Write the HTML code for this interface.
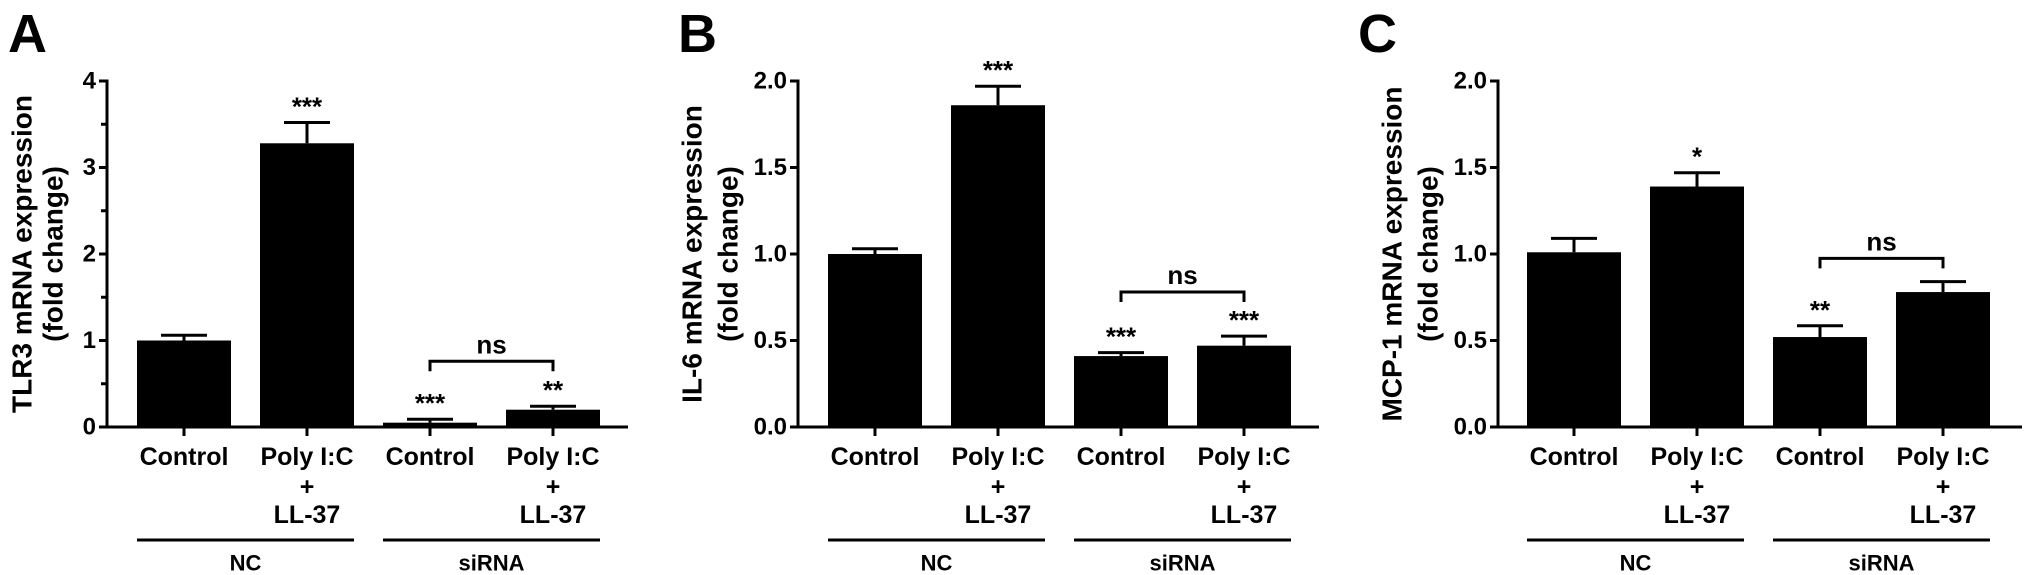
<!DOCTYPE html>
<html><head><meta charset="utf-8">
<style>
html,body{margin:0;padding:0;background:#fff;}
svg{display:block;font-family:"Liberation Sans",Arial,sans-serif;font-weight:bold;}
</style></head>
<body>
<svg id="fig" width="2026" height="575" viewBox="0 0 2026 575"></svg>
<script>
const categories = ["Control", "Poly I:C + LL-37", "Control", "Poly I:C + LL-37"];
const groups = ["NC", "siRNA"];
const tlr3Values = [1.0, 3.28, 0.05, 0.20];
const tlr3Errors = [0.06, 0.24, 0.04, 0.04];
const tlr3Stars = ["", "***", "***", "**"];
const il6Values = [1.0, 1.86, 0.41, 0.47];
const il6Errors = [0.03, 0.11, 0.02, 0.055];
const il6Stars = ["", "***", "***", "***"];
const mcp1Values = [1.01, 1.39, 0.52, 0.78];
const mcp1Errors = [0.08, 0.08, 0.065, 0.06];
const mcp1Stars = ["", "*", "**", ""];
const tlr3Ticks = [0, 1, 2, 3, 4];
const il6Ticks = [0, 0.5, 1.0, 1.5, 2.0];
const mcp1Ticks = [0, 0.5, 1.0, 1.5, 2.0];
const tlr3NsLevel = 0.76;
const il6NsLevel = 0.78;
const mcp1NsLevel = 0.975;

const NS = "http://www.w3.org/2000/svg";
const svg = document.getElementById("fig");
function mk(tag, attrs, parent) {
  const e = document.createElementNS(NS, tag);
  for (const k in attrs) e.setAttribute(k, attrs[k]);
  (parent || svg).appendChild(e);
  return e;
}
function txt(s, x, y, size, parent, anchor) {
  const t = mk("text", {x: x, y: y, "font-size": size, "text-anchor": anchor || "middle", "dominant-baseline": "central"}, parent);
  t.textContent = s;
  return t;
}

const panels = [
  {letter: "A", lx: 8, title: "TLR3 mRNA expression", ax: 107, axEnd: 628, barL: 137, tx1: 22, tx2: 53,
   values: tlr3Values, errors: tlr3Errors, stars: tlr3Stars, ticks: tlr3Ticks, max: 4, minor: true, ns: tlr3NsLevel, fmt: v => String(v)},
  {letter: "B", lx: 678, title: "IL-6 mRNA expression", ax: 798, axEnd: 1319, barL: 828, tx1: 692, tx2: 728,
   values: il6Values, errors: il6Errors, stars: il6Stars, ticks: il6Ticks, max: 2, minor: false, ns: il6NsLevel, fmt: v => v.toFixed(1)},
  {letter: "C", lx: 1358, title: "MCP-1 mRNA expression", ax: 1498, axEnd: 2022, barL: 1527, tx1: 1392, tx2: 1428,
   values: mcp1Values, errors: mcp1Errors, stars: mcp1Stars, ticks: mcp1Ticks, max: 2, minor: false, ns: mcp1NsLevel, fmt: v => v.toFixed(1)}
];

const Y0 = 427, YTOP = 81, STEP = 123, BW = 94, CAP = 46;

panels.forEach((p, pi) => {
  const g = mk("g", {});
  
  
  const y = v => Y0 - (v / p.max) * (Y0 - YTOP);
  const cx = i => p.barL + BW / 2 + i * STEP;

  const L = mk("text", {x: p.lx, y: 52, "font-size": 54}, g);
  L.textContent = p.letter;
  
  

  const t1 = txt(p.title, p.tx1, 254, 28, g);
  t1.setAttribute("transform", `rotate(-90 ${p.tx1} 254)`);
  
  
  const t2 = txt("(fold change)", p.tx2, 254, 28, g);
  t2.setAttribute("transform", `rotate(-90 ${p.tx2} 254)`);
  
  

  // bars and error bars
  p.values.forEach((v, i) => {
    const b = mk("rect", {x: cx(i) - BW / 2, y: y(v), width: BW, height: Y0 - y(v), fill: "#000"}, g);
    
    
    const ey = y(v + p.errors[i]);
    const e1 = mk("line", {x1: cx(i), x2: cx(i), y1: y(v), y2: ey, stroke: "#000", "stroke-width": 3}, g);
    
    
    const e2 = mk("line", {x1: cx(i) - CAP / 2, x2: cx(i) + CAP / 2, y1: ey, y2: ey, stroke: "#000", "stroke-width": 3}, g);
    
    
    if (p.stars[i]) {
      const s = txt(p.stars[i], cx(i), ey - 16, 26, g);
      
      
    }
  });

  // axes
  const ya = mk("line", {x1: p.ax, x2: p.ax, y1: YTOP - 1.5, y2: Y0 + 1.5, stroke: "#000", "stroke-width": 3}, g);
  
  
  const xa = mk("line", {x1: p.ax - 1.5, x2: p.axEnd, y1: Y0, y2: Y0, stroke: "#000", "stroke-width": 3}, g);
  
  

  p.ticks.forEach((t, k) => {
    const tk = mk("line", {x1: p.ax - 8, x2: p.ax, y1: y(t), y2: y(t), stroke: "#000", "stroke-width": 3}, g);
    
    
    const tl = txt(p.fmt(t), p.ax - 11, y(t), 24, g, "end");
    
    
    if (p.minor && k < p.ticks.length - 1) {
      const mv = (t + p.ticks[k + 1]) / 2;
      const mt = mk("line", {x1: p.ax - 6, x2: p.ax, y1: y(mv), y2: y(mv), stroke: "#000", "stroke-width": 3}, g);
      
      
    }
  });

  // x ticks and labels
  categories.forEach((c, i) => {
    const xt = mk("line", {x1: cx(i), x2: cx(i), y1: Y0, y2: Y0 + 9, stroke: "#000", "stroke-width": 3}, g);
    
    
    const parts = c.split(" + ");
    const a = txt(parts[0], cx(i), 457, 25, g);
    
    
    if (parts.length > 1) {
      const pl = txt("+", cx(i), 487, 25, g);
      
      
      const ll = txt(parts[1], cx(i), 515, 25, g);
      
      
    }
  });

  // group lines
  groups.forEach((gr, j) => {
    const x1 = cx(2 * j) - BW / 2, x2 = cx(2 * j + 1) + BW / 2;
    const gl = mk("line", {x1: x1, x2: x2, y1: 540, y2: 540, stroke: "#000", "stroke-width": 3}, g);
    
    
    const gt = txt(gr, (x1 + x2) / 2, 563, 22, g);
    
    
  });

  // ns bracket
  const by = y(p.ns);
  const br = mk("path", {d: `M${cx(2)} ${by + 10} V${by} H${cx(3)} V${by + 10}`, fill: "none", stroke: "#000", "stroke-width": 3}, g);
  
  
  const nt = txt("ns", (cx(2) + cx(3)) / 2, by - 17, 26, g);
  
  
});
</script>
</body></html>
